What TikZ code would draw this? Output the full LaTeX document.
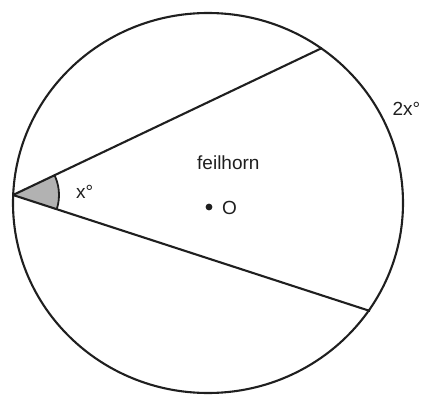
\documentclass[tikz,border=0pt]{standalone}
\usepackage{fontspec}
\setmainfont{Liberation Sans}
\usetikzlibrary{calc}
\begin{document}
\begin{tikzpicture}[x=1pt,y=-1pt,
  ln/.style={line width=2.1pt,black!88},
  lbl/.style={inner sep=0pt,font=\fontsize{19}{21}\selectfont,text=black!88}]
\useasboundingbox (0,0) rectangle (421,396);
\coordinate (C) at (208,203);
\coordinate (V) at (13,195);
\coordinate (A) at (322,48);
\coordinate (B) at (370,311);
\begin{scope}
  \clip (V) -- (A) -- (B) -- cycle;
  \fill[gray!60] (V) circle[radius=46];
  \draw[ln,line width=1.8pt] (V) circle[radius=46];
\end{scope}
\draw[ln] (C) ellipse[x radius=195, y radius=190];
\draw[ln] (V) -- (A);
\draw[ln] (V) -- (B);
\fill[black!88] (209,207) circle[radius=3.4] node (O) {};
\node[lbl,anchor=west] (Olbl) at (222,208) {O};
\node[lbl,anchor=base west] (feil) at (197,170) {feilhorn};
\node[lbl,anchor=base west] (xdeg) at (76,198) {x°};
\node[lbl,anchor=base east] (twox) at (420.5,116) {2x°};
\end{tikzpicture}
\end{document}
